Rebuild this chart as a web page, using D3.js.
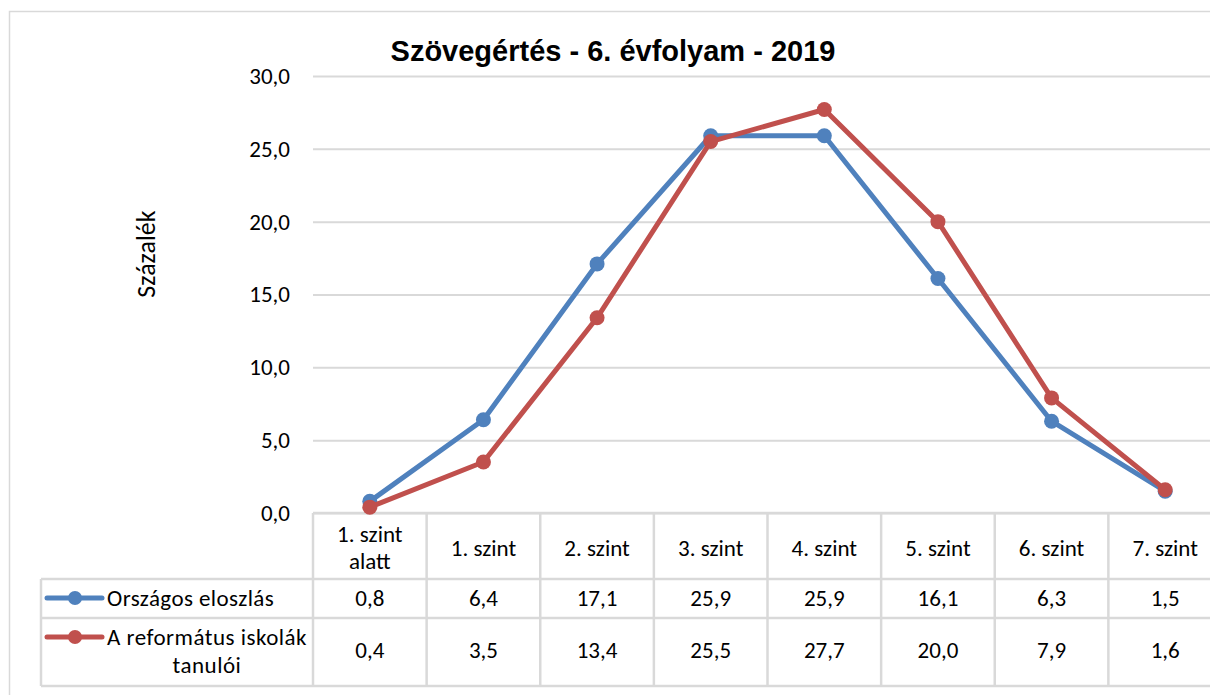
<!DOCTYPE html>
<html>
<head>
<meta charset="utf-8">
<script src="https://cdn.jsdelivr.net/npm/d3@7"></script>
<style>
  body { margin: 0; background: #fff; }
  svg { display: block; }
</style>
</head>
<body>
<div id="chart"></div>
<script>
// adatok
let categories = ['1. szint alatt', '1. szint', '2. szint', '3. szint', '4. szint', '5. szint', '6. szint', '7. szint']
let seriesNames = ['Országos eloszlás', 'A református iskolák tanulói']
let orszagos = [0.8, 6.4, 17.1, 25.9, 25.9, 16.1, 6.3, 1.5]
let reformatus = [0.4, 3.5, 13.4, 25.5, 27.7, 20.0, 7.9, 1.6]
let yTicks = [0, 5, 10, 15, 20, 25, 30]

// stílus
let w = 1210, h = 695
let colors = ['#4f81bd', '#c0504d']
let gridColor = '#d9d9d9'
let font = 'Carlito, Calibri, Lato, sans-serif'
let fs = 23
let plot = { left: 313, right: 1222, top: 76, bottom: 513 }
let tableRows = [513, 579, 618, 686]
let tableLeft = 41

let fmt = d3.formatLocale({ decimal: ',', thousands: ' ', grouping: [3], currency: ['', ''] }).format('.1f')

let svg = d3.select('#chart').append('svg')
  .attr('width', w)
  .attr('height', h)

// külső keret
svg.append('rect')
  .attr('x', 9.5).attr('y', 11.5)
  .attr('width', 1230).attr('height', 700)
  .attr('fill', 'none')
  .attr('stroke', gridColor)
  .attr('stroke-width', 1.5)

let x = d3.scaleBand()
  .domain(categories)
  .range([plot.left, plot.right])
let y = d3.scaleLinear()
  .domain([0, 30])
  .range([plot.bottom, plot.top])

// rácsvonalak + y tengely
let yAxis = d3.axisLeft(y)
  .tickValues(yTicks)
  .tickFormat(fmt)
  .tickSize(-(plot.right - plot.left))
  .tickPadding(23)
let gy = svg.append('g')
  .attr('transform', `translate(${plot.left},0)`)
  .call(yAxis)
gy.select('.domain').remove()
gy.selectAll('line')
  .attr('stroke', gridColor)
  .attr('stroke-width', 2)
gy.selectAll('text')
  .attr('font-family', font)
  .attr('font-size', fs)
  .attr('fill', '#000')

// cím
svg.append('text')
  .attr('x', 613).attr('y', 61)
  .attr('text-anchor', 'middle')
  .attr('font-family', 'Liberation Sans, Arial, sans-serif')
  .attr('font-weight', 'bold')
  .attr('font-size', 29)
  .text('Szövegértés - 6. évfolyam - 2019')

// y tengely címe
svg.append('text')
  .attr('transform', 'translate(155,254) rotate(-90)')
  .attr('text-anchor', 'middle')
  .attr('font-family', font)
  .attr('font-size', 26)
  .text('Százalék')

// adattábla vonalai
let tg = svg.append('g')
tg.selectAll('line.h')
  .data(tableRows)
  .enter()
  .append('line')
  .attr('x1', (d, i) => i === 0 ? plot.left : tableLeft)
  .attr('x2', plot.right)
  .attr('y1', d => d).attr('y2', d => d)
  .attr('stroke', gridColor)
  .attr('stroke-width', 2.5)
tg.selectAll('line.v')
  .data(categories)
  .enter()
  .append('line')
  .attr('x1', d => x(d)).attr('x2', d => x(d))
  .attr('y1', tableRows[0]).attr('y2', tableRows[3])
  .attr('stroke', gridColor)
  .attr('stroke-width', 2.5)
tg.append('line')
  .attr('x1', tableLeft).attr('x2', tableLeft)
  .attr('y1', tableRows[1]).attr('y2', tableRows[3])
  .attr('stroke', gridColor)
  .attr('stroke-width', 2.5)

// fejléc
let head = tg.selectAll('text.head')
  .data(categories)
  .enter()
  .append('text')
  .attr('text-anchor', 'middle')
  .attr('font-family', font)
  .attr('font-size', fs)
  .attr('x', d => x(d) + x.bandwidth() / 2)
head.each(function (d) {
  let words = d === '1. szint alatt' ? ['1. szint', 'alatt'] : [d]
  let t = d3.select(this)
  words.forEach((wd, i) => {
    t.append('tspan')
      .attr('x', x(d) + x.bandwidth() / 2)
      .attr('y', words.length === 1 ? 556 : 542 + i * 27)
      .text(wd)
  })
})

// értékek
let rowY = [606, 658]
;[orszagos, reformatus].forEach((vals, r) => {
  tg.selectAll('text.v' + r)
    .data(vals)
    .enter()
    .append('text')
    .attr('text-anchor', 'middle')
    .attr('font-family', font)
    .attr('font-size', fs)
    .attr('x', (d, i) => x(categories[i]) + x.bandwidth() / 2)
    .attr('y', rowY[r])
    .text(d => fmt(d))
})

// jelmagyarázat
let legendY = [598, 637]
legendY.forEach((ly, i) => {
  tg.append('line')
    .attr('x1', 47).attr('x2', 102)
    .attr('y1', ly).attr('y2', ly)
    .attr('stroke', colors[i])
    .attr('stroke-width', 5)
    .attr('stroke-linecap', 'round')
  tg.append('circle')
    .attr('cx', 75).attr('cy', ly)
    .attr('r', 7)
    .attr('fill', colors[i])
})
tg.append('text')
  .attr('x', 107).attr('y', 606)
  .attr('font-family', font)
  .attr('font-size', fs)
  .attr('letter-spacing', 0.4)
  .text(seriesNames[0])
let lt = tg.append('text')
  .attr('text-anchor', 'middle')
  .attr('font-family', font)
  .attr('font-size', fs)
  .attr('letter-spacing', 0.5)
lt.append('tspan').attr('x', 207).attr('y', 645).text('A református iskolák')
lt.append('tspan').attr('x', 207).attr('y', 673).text('tanulói')

// vonalak
let line = d3.line()
  .x((d, i) => x(categories[i]) + x.bandwidth() / 2)
  .y(d => y(d))
;[orszagos, reformatus].forEach((vals, s) => {
  let g = svg.append('g')
  g.append('path')
    .datum(vals)
    .attr('d', line)
    .attr('fill', 'none')
    .attr('stroke', colors[s])
    .attr('stroke-width', 5)
    .attr('stroke-linejoin', 'round')
  g.selectAll('circle')
    .data(vals)
    .enter()
    .append('circle')
    .attr('cx', (d, i) => x(categories[i]) + x.bandwidth() / 2)
    .attr('cy', d => y(d))
    .attr('r', 7.5)
    .attr('fill', colors[s])
})
</script>
</body>
</html>
